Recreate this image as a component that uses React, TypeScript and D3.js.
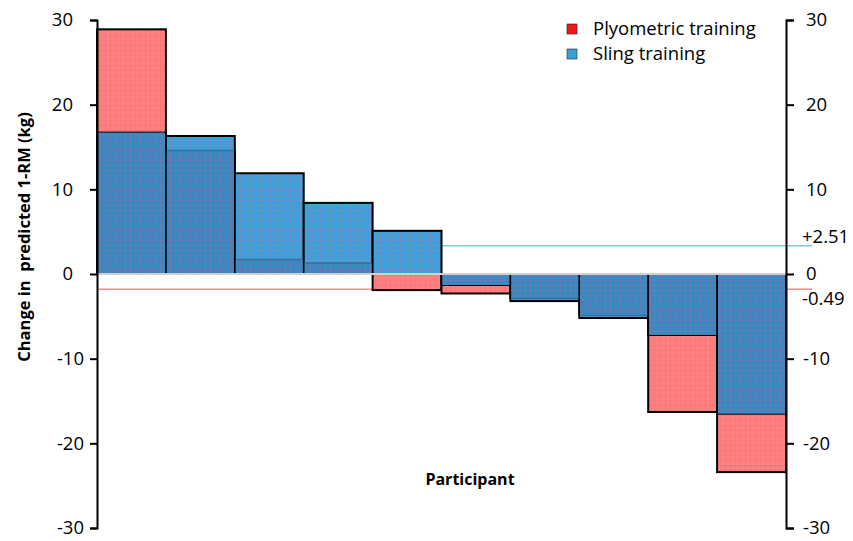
import React, { useEffect, useRef } from 'react';
import * as d3 from 'd3';

// values
const participants = ['1', '2', '3', '4', '5', '6', '7', '8', '9', '10'];
const plyometric = [28.9, 14.6, 1.7, 1.3, -1.9, -2.3, -2.9, -4.9, -16.3, -23.4];
const sling = [16.7, 16.3, 11.9, 8.4, 5.1, -1.3, -3.2, -5.2, -7.2, -16.5];
const yTicks = [-30, -20, -10, 0, 10, 20, 30];
const meanLines = [
  { label: '+2.51', value: 3.35, color: '#7cc8f0' },
  { label: '-0.49', value: -1.8, color: '#ff8c8c' },
];
const legendItems = [
  { label: 'Plyometric training', color: '#f01818' },
  { label: 'Sling training', color: '#3aa0d8' },
];

const App = () => {
  const svgRef = useRef<SVGSVGElement>(null);

  useEffect(() => {
    const svg = d3.select(svgRef.current);
    svg.selectAll('*').remove();

    const width = 853;
    const height = 541;
    const font = "'Open Sans', 'Liberation Sans', sans-serif";
    svg.attr('width', width).attr('height', height);

    const x = d3.scaleBand().domain(participants).range([97, 786]).padding(0);
    const y = d3.scaleLinear().domain([-30, 30]).range([528, 20]);

    // patterns for the bar fills
    const defs = svg.append('defs');
    const makePattern = (id, bg, line) => {
      const p = defs.append('pattern')
        .attr('id', id)
        .attr('patternUnits', 'userSpaceOnUse')
        .attr('width', 5)
        .attr('height', 5);
      p.append('rect').attr('width', 5).attr('height', 5).attr('fill', bg);
      p.append('path').attr('d', 'M0,0.5H5M0.5,0V5')
        .attr('stroke', line).attr('stroke-width', 1);
    };
    makePattern('blueFill', '#3ca0da', 'rgba(190,120,170,0.3)');
    makePattern('blueDark', '#3a88c2', 'rgba(170,110,160,0.3)');
    makePattern('redFill', '#ff8080', 'rgba(240,110,110,0.4)');

    // mean lines behind the bars
    svg.selectAll('.mean')
      .data(meanLines)
      .enter().append('line')
      .attr('x1', 97)
      .attr('x2', 812)
      .attr('y1', d => y(d.value))
      .attr('y2', d => y(d.value))
      .attr('stroke', d => d.color)
      .attr('stroke-width', 1.5);

    // plyometric bars
    svg.selectAll('.plyo')
      .data(plyometric)
      .enter().append('rect')
      .attr('x', (d, i) => x(participants[i]))
      .attr('width', x.bandwidth())
      .attr('y', d => y(Math.max(0, d)))
      .attr('height', d => Math.abs(y(d) - y(0)))
      .attr('fill', 'url(#redFill)')
      .attr('stroke', '#000')
      .attr('stroke-width', 2);

    // sling bars on top
    svg.selectAll('.sling')
      .data(sling)
      .enter().append('rect')
      .attr('x', (d, i) => x(participants[i]))
      .attr('width', x.bandwidth())
      .attr('y', d => y(Math.max(0, d)))
      .attr('height', d => Math.abs(y(d) - y(0)))
      .attr('fill', 'url(#blueFill)')
      .attr('stroke', '#000')
      .attr('stroke-width', 2);

    // where the plyometric bar sits behind, the blue looks darker
    const overlap = sling.map((s, i) => {
      const p = plyometric[i];
      if (Math.sign(s) !== Math.sign(p)) return { i, v: 0, edge: false };
      const v = Math.sign(s) * Math.min(Math.abs(s), Math.abs(p));
      return { i, v, edge: Math.abs(p) < Math.abs(s) };
    });
    svg.selectAll('.overlap')
      .data(overlap)
      .enter().append('rect')
      .attr('x', d => x(participants[d.i]) + 1)
      .attr('width', x.bandwidth() - 2)
      .attr('y', d => y(Math.max(0, d.v)))
      .attr('height', d => Math.abs(y(d.v) - y(0)))
      .attr('fill', 'url(#blueDark)');
    svg.selectAll('.overlapEdge')
      .data(overlap.filter(d => d.edge))
      .enter().append('line')
      .attr('x1', d => x(participants[d.i]) + 1)
      .attr('x2', d => x(participants[d.i]) + x.bandwidth() - 1)
      .attr('y1', d => y(d.v))
      .attr('y2', d => y(d.v))
      .attr('stroke', '#336f9c')
      .attr('stroke-width', 1.5);

    // zero line
    svg.append('line')
      .attr('x1', 97).attr('x2', 786)
      .attr('y1', y(0)).attr('y2', y(0))
      .attr('stroke', '#d0d0d0')
      .attr('stroke-width', 2);

    const fmt = d => String(d);

    // left axis
    const left = svg.append('g').attr('transform', 'translate(97,0)')
      .call(d3.axisLeft(y).tickValues(yTicks).tickSize(7).tickSizeOuter(7).tickFormat(fmt));
    left.select('.domain').attr('stroke', '#000').attr('stroke-width', 2);
    left.selectAll('.tick line').attr('stroke', '#000').attr('stroke-width', 2);
    left.selectAll('.tick text')
      .attr('font-family', font).attr('font-size', 18.5).attr('fill', '#000')
      .attr('x', d => (d < 0 ? -13 : -24));

    // right axis
    const right = svg.append('g').attr('transform', 'translate(786,0)')
      .call(d3.axisRight(y).tickValues(yTicks).tickSize(8).tickSizeOuter(8).tickFormat(fmt));
    right.select('.domain').attr('stroke', '#000').attr('stroke-width', 2);
    right.selectAll('.tick line').attr('stroke', '#000').attr('stroke-width', 2);
    right.selectAll('.tick text')
      .attr('font-family', font).attr('font-size', 18.5).attr('fill', '#000')
      .attr('x', d => (d < 0 ? 17 : 20));

    // mean labels
    svg.selectAll('.meanLabel')
      .data(meanLines)
      .enter().append('text')
      .attr('x', 802)
      .attr('y', d => (d.value > 0 ? y(d.value) - 9 : y(d.value) + 9))
      .attr('dy', '0.35em')
      .attr('font-family', font)
      .attr('font-size', 18.5)
      .text(d => d.label);

    // axis titles
    svg.append('text')
      .attr('transform', 'translate(24,237) rotate(-90)')
      .attr('dy', '0.35em')
      .attr('text-anchor', 'middle')
      .attr('font-family', font)
      .attr('font-weight', 'bold')
      .attr('font-size', 16.5)
      .attr('xml:space', 'preserve')
      .text('Change in  predicted 1-RM (kg)');

    svg.append('text')
      .attr('x', 470)
      .attr('y', 479)
      .attr('dy', '0.35em')
      .attr('text-anchor', 'middle')
      .attr('font-family', font)
      .attr('font-weight', 'bold')
      .attr('font-size', 16)
      .text('Participant');

    // legend
    const legend = svg.append('g').attr('transform', 'translate(567,29)');
    legendItems.forEach((item, i) => {
      legend.append('rect')
        .attr('x', 0).attr('y', i * 25 - 5)
        .attr('width', 10).attr('height', 10)
        .attr('fill', item.color)
        .attr('stroke', '#222').attr('stroke-width', 0.6);
      legend.append('text')
        .attr('x', 26).attr('y', i * 25)
        .attr('dy', '0.35em')
        .attr('font-family', font)
        .attr('font-size', 18.5)
        .text(item.label);
    });
  }, []);

  return <svg ref={svgRef} style={{ position: 'absolute', left: 0, top: 0 }}></svg>;
};

export default App;
